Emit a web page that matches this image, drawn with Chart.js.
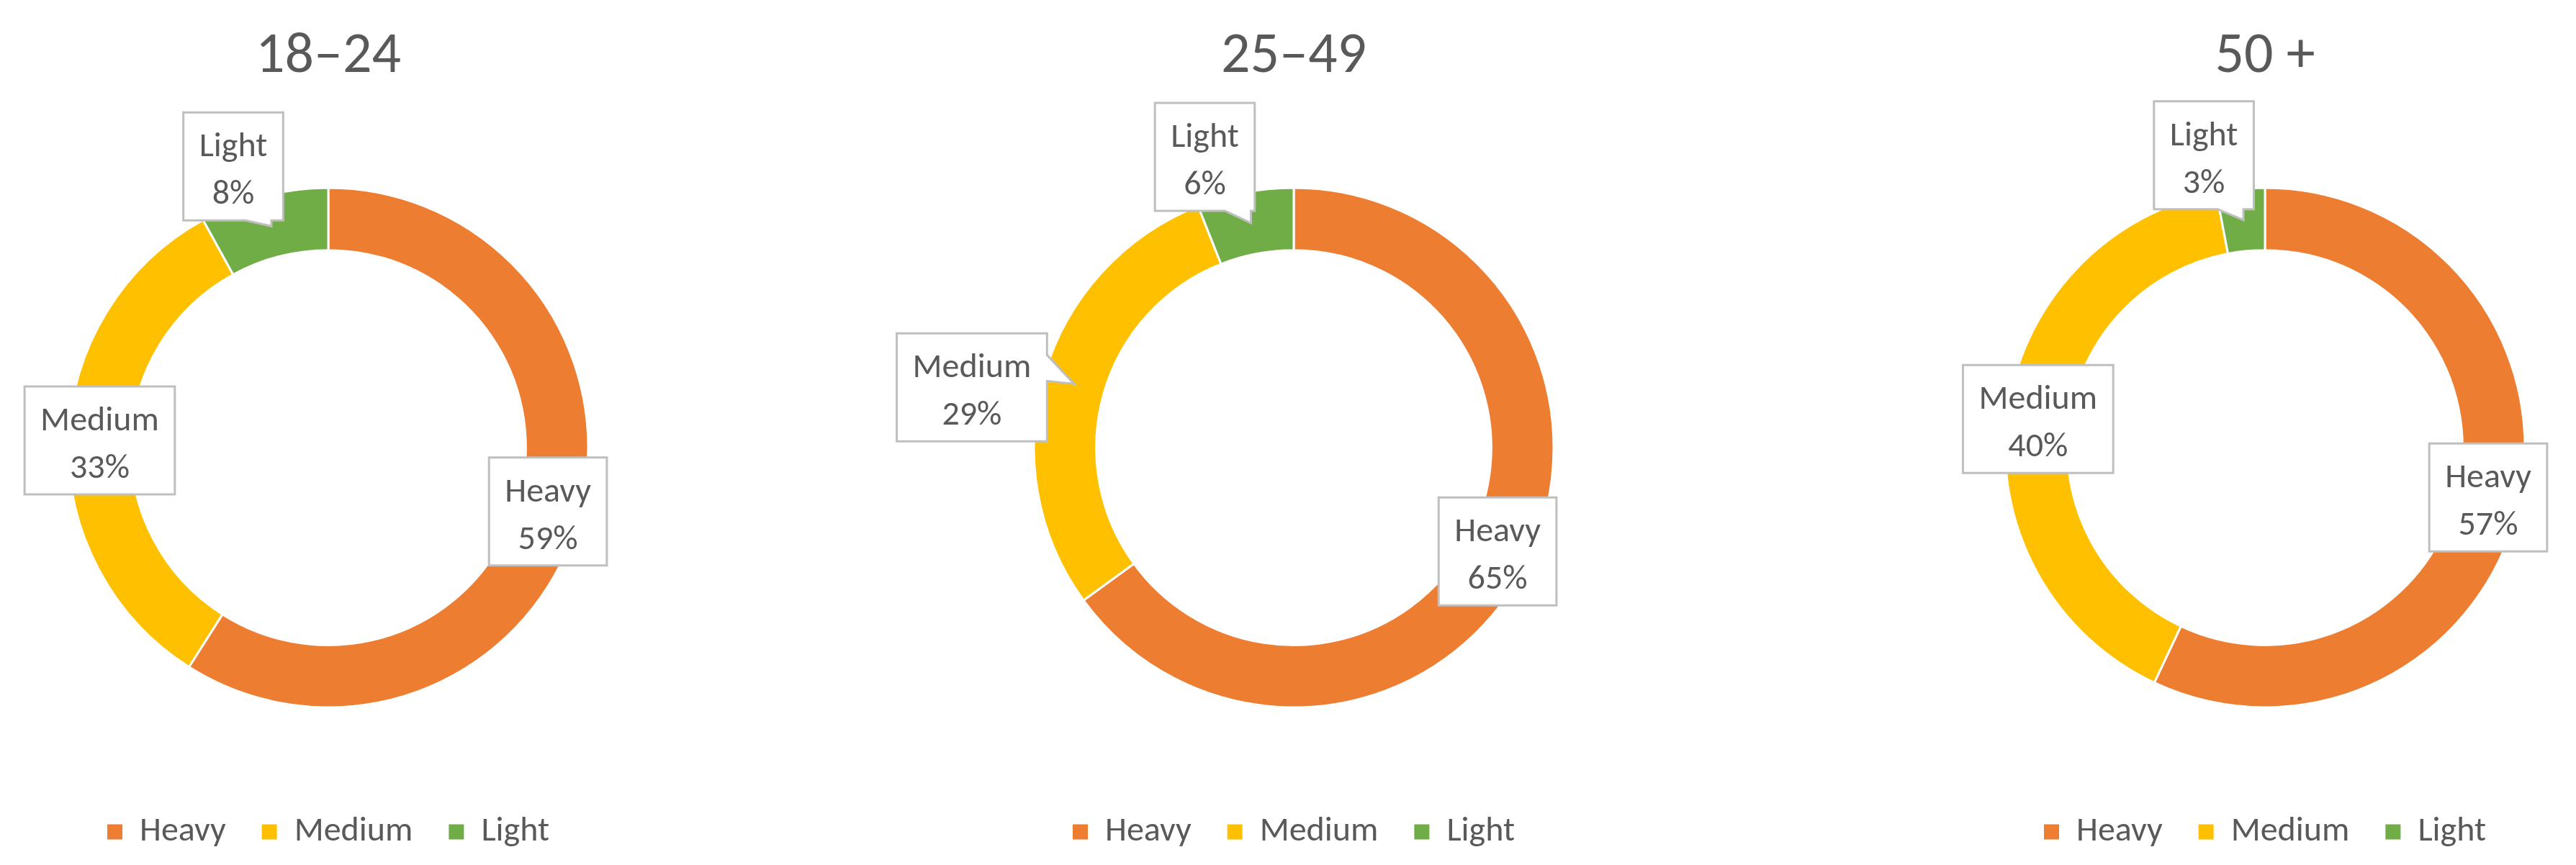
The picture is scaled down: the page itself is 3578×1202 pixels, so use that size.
<!DOCTYPE html>
<html><head><meta charset="utf-8">
<script src="https://cdn.jsdelivr.net/npm/chart.js@4.4.1/dist/chart.umd.min.js"></script>
<style>
html,body{margin:0;padding:0;background:#fff;}
#wrap{position:relative;width:3578px;height:1202px;overflow:hidden;background:#fff;}
.panel{position:absolute;top:0;height:1202px;}
canvas{display:block;}
</style></head><body>
<div id="wrap">
  <div class="panel" style="left:0px;width:912px"><canvas id="c0" width="912" height="1202"></canvas></div>
  <div class="panel" style="left:1197px;width:1200px"><canvas id="c1" width="1200" height="1202"></canvas></div>
  <div class="panel" style="left:2714px;width:864px"><canvas id="c2" width="864" height="1202"></canvas></div>
</div>
<script>
// ---- data ----
const categories = ['Heavy', 'Medium', 'Light'];
const groupTitles = ['18–24', '25–49', '50 +'];
const share_18_24 = [59, 33, 8];
const share_25_49 = [65, 29, 6];
const share_50_plus = [57, 40, 3];
const groupValues = [share_18_24, share_25_49, share_50_plus];

// ---- styles / positions (kept separate from data) ----
const sliceColors = ['#ED7D31', '#FFC000', '#70AD47'];
const textColor = '#595959';
const FONT = 'Calibri, Carlito, Lato, sans-serif';
// callout box offsets from the slice centre point, px
const calloutOffsets = [
  [[0, 0], [0, 0], [-53, -83]],
  [[0, 0], [-142, 5], [-64, -92]],
  [[0, 0], [0, 0], [-55, -90]]
];

function clamp(v, a, b) { return Math.max(a, Math.min(b, v)); }

const calloutPlugin = {
  id: 'callouts',
  afterDatasetsDraw(chart, args, opts) {
    const ctx = chart.ctx;
    const meta = chart.getDatasetMeta(0);
    const ds = chart.data.datasets[0];
    ctx.save();
    ctx.font = '48px ' + FONT;
    meta.data.forEach((arc, i) => {
      const p = arc.getCenterPoint(true);
      const off = opts.offsets[i];
      const cx = p.x + off[0], cy = p.y + off[1];
      const line1 = chart.data.labels[i];
      const line2 = ds.data[i] + '%';
      const w = Math.max(ctx.measureText(line1).width, ctx.measureText(line2).width) + 44;
      const h = 150;
      const l = cx - w / 2, r = cx + w / 2, t = cy - h / 2, b = cy + h / 2;
      const tx = p.x, ty = p.y;
      const base = 36;
      let pts;
      if (ty > b) {
        const x1 = clamp(tx - base, l + 4, r - base - 4), x2 = x1 + base;
        pts = [[l, t], [r, t], [r, b], [x2, b], [tx, ty], [x1, b], [l, b]];
      } else if (ty < t) {
        const x1 = clamp(tx - base / 2, l + 4, r - base - 4), x2 = x1 + base;
        pts = [[l, t], [x1, t], [tx, ty], [x2, t], [r, t], [r, b], [l, b]];
      } else if (tx > r) {
        const y1 = clamp(ty - base - 4, t + 4, b - base - 4), y2 = y1 + base;
        pts = [[l, t], [r, t], [r, y1], [tx, ty], [r, y2], [r, b], [l, b]];
      } else if (tx < l) {
        const y1 = clamp(ty - base / 2, t + 4, b - base - 4), y2 = y1 + base;
        pts = [[l, t], [r, t], [r, b], [l, b], [l, y2], [tx, ty], [l, y1]];
      } else {
        pts = [[l, t], [r, t], [r, b], [l, b]];
      }
      ctx.beginPath();
      pts.forEach((q, k) => k ? ctx.lineTo(q[0], q[1]) : ctx.moveTo(q[0], q[1]));
      ctx.closePath();
      ctx.fillStyle = '#ffffff';
      ctx.fill();
      ctx.lineWidth = 3;
      ctx.strokeStyle = '#BFBFBF';
      ctx.lineJoin = 'miter';
      ctx.stroke();
      ctx.fillStyle = textColor;
      ctx.textAlign = 'center';
      ctx.textBaseline = 'alphabetic';
      ctx.fillText(line1, cx, cy - 14);
      ctx.fillText(line2, cx, cy + 52);
    });
    ctx.restore();
  }
};

function makeChart(idx) {
  return new Chart(document.getElementById('c' + idx), {
    type: 'doughnut',
    data: {
      labels: categories,
      datasets: [{
        data: groupValues[idx],
        backgroundColor: sliceColors,
        borderColor: '#ffffff',
        borderWidth: 3,
        hoverOffset: 0
      }]
    },
    options: {
      responsive: false,
      animation: false,
      radius: 361,
      cutout: '76%',
      layout: { padding: { top: 0, bottom: 12, left: 0, right: 0 } },
      plugins: {
        title: {
          display: true,
          text: groupTitles[idx],
          color: textColor,
          font: { family: FONT, size: 80, weight: 'normal' },
          padding: { top: 32, bottom: 34 }
        },
        legend: {
          position: 'bottom',
          labels: {
            color: textColor,
            font: { family: FONT, size: 48 },
            boxWidth: 21,
            boxHeight: 21,
            padding: 50,
            generateLabels(chart) {
              const items = Chart.overrides.doughnut.plugins.legend.labels.generateLabels(chart);
              items.forEach(it => { it.strokeStyle = it.fillStyle; it.lineWidth = 0; });
              return items;
            }
          }
        },
        tooltip: { enabled: false },
        callouts: { offsets: calloutOffsets[idx] }
      }
    },
    plugins: [calloutPlugin]
  });
}
[0, 1, 2].forEach(makeChart);
</script>
</body></html>
